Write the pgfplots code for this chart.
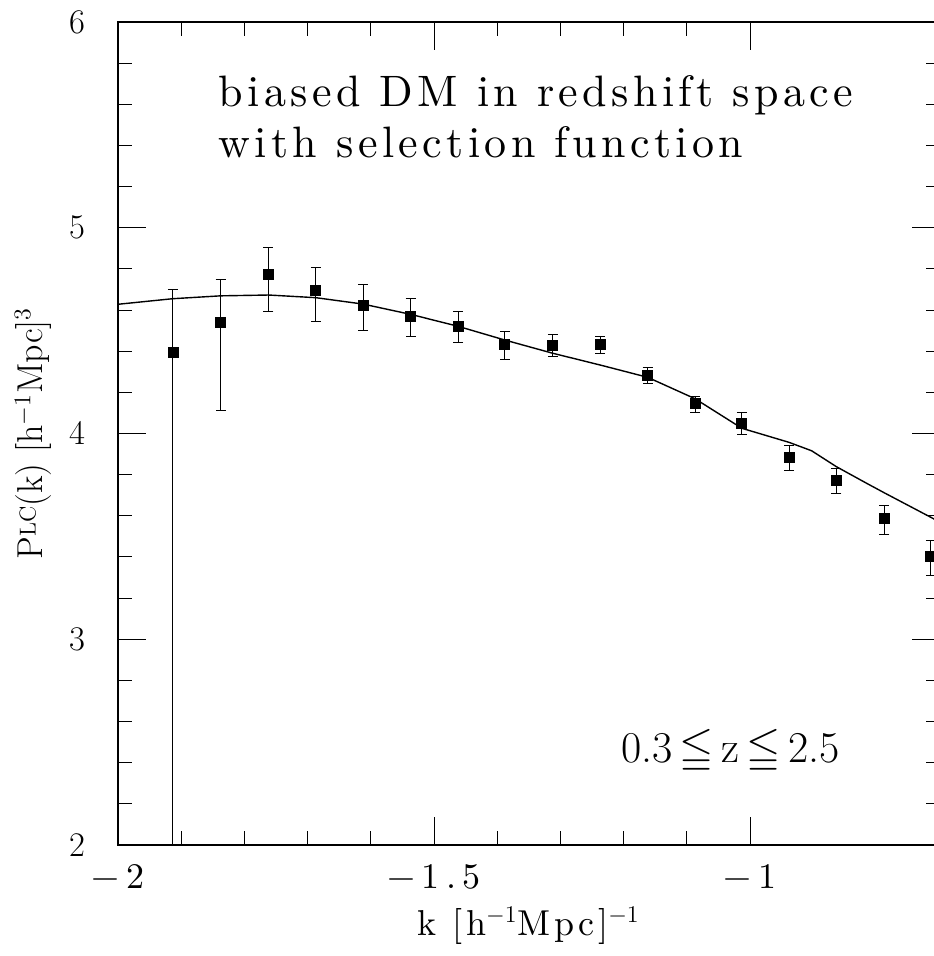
\documentclass[border=0pt]{standalone}
\usepackage{fontspec}
\usepackage{amssymb}
\usepackage{pgfplots}
\pgfplotsset{compat=1.18}
\newfontfamily\spaced{lmroman10-regular.otf}[LetterSpace=10]
\newfontfamily\spacedlab{lmroman10-regular.otf}[LetterSpace=10]
\newfontfamily\spacedtick{lmroman10-regular.otf}[LetterSpace=18]

% binned P(k) with asymmetric errors
\pgfplotstableread{
x       y      ep     em
-1.913  4.393  0.309  3.000
-1.8375 4.539  0.210  0.425
-1.762  4.774  0.129  0.182
-1.687  4.694  0.112  0.151
-1.612  4.623  0.099  0.123
-1.537  4.571  0.084  0.101
-1.462  4.521  0.071  0.081
-1.388  4.435  0.060  0.076
-1.312  4.427  0.053  0.055
-1.237  4.434  0.035  0.046
-1.162  4.284  0.039  0.043
-1.087  4.147  0.035  0.046
-1.013  4.051  0.050  0.058
-0.938  3.886  0.056  0.066
-0.8635 3.774  0.055  0.067
-0.7875 3.586  0.066  0.075
-0.714  3.405  0.074  0.094
}\pkdata

% model curve
\pgfplotstableread{
x       y
-2.000  4.628
-1.9136 4.655
-1.8377 4.669
-1.7617 4.673
-1.6869 4.660
-1.6123 4.629
-1.5369 4.579
-1.4620 4.521
-1.3877 4.454
-1.3122 4.390
-1.2373 4.333
-1.1619 4.273
-1.0870 4.169
-1.0127 4.025
-0.9896 4.004
-0.9383 3.957
-0.9025 3.916
-0.8635 3.839
-0.8155 3.758
-0.7877 3.712
-0.7104 3.587
-0.7000 3.570
}\pkmodel

\begin{document}
\begin{tikzpicture}
\begin{axis}[
  at={(0,0)}, anchor=south west,
  scale only axis, width=410.8pt, height=411.5pt,
  xmin=-2, xmax=-0.7, ymin=2, ymax=6,
  xtick={-2,-1.5,-1}, xticklabels={−2,−1.5,−1}, minor x tick num=4,
  ytick={2,3,4,5,6}, minor y tick num=4,
  tick align=inside,
  major tick length=14pt, minor tick length=7pt,
  every tick/.style={black, line width=0.5pt},
  axis line style={line width=1pt},
  tick label style={font=\fontsize{18}{20}\selectfont},
  xticklabel style={font=\spacedtick\fontsize{18}{20}\selectfont, yshift=-6pt},
  yticklabel style={xshift=-13pt},
  xlabel={\spacedlab k [h$^{-1}$Mpc]$^{-1}$},
  ylabel={P\raisebox{3.7pt}{\fontsize{11.5}{12}\selectfont LC}(k) [h$^{-1}$Mpc]$^3$},
  label style={font=\fontsize{18}{20}\selectfont},
  xlabel style={at={(axis description cs:0.5,-0.1094)}, anchor=base},
  ylabel style={at={(axis description cs:-0.0913,0.5)}, anchor=base},
]
\addplot[black, line width=0.7pt, no marks] table[x=x, y=y] {\pkmodel};
\addplot[black, only marks, mark=square*, mark size=2.5pt,
  error bars/.cd, y dir=both, y explicit,
  error bar style={line width=0.5pt},
  error mark options={rotate=90, mark size=2.5pt, line width=0.5pt}]
  table[x=x, y=y, y error plus=ep, y error minus=em] {\pkdata};
\node[anchor=base west, font=\spaced\fontsize{22}{24}\selectfont]
  at (axis cs:-1.852,5.588) {biased DM in redshift space};
\node[anchor=base west, font=\spaced\fontsize{22}{24}\selectfont]
  at (axis cs:-1.852,5.342) {with selection function};
\node[anchor=base west, font=\fontsize{22}{24}\selectfont]
  at (axis cs:-1.215,2.40) {0.3\,$\leqq$\,z\,$\leqq$\,2.5};
\end{axis}
\pgfresetboundingbox
\path[use as bounding box] (-59pt,-55.5pt) rectangle (407.5pt,422.5pt);
\end{tikzpicture}
\end{document}
